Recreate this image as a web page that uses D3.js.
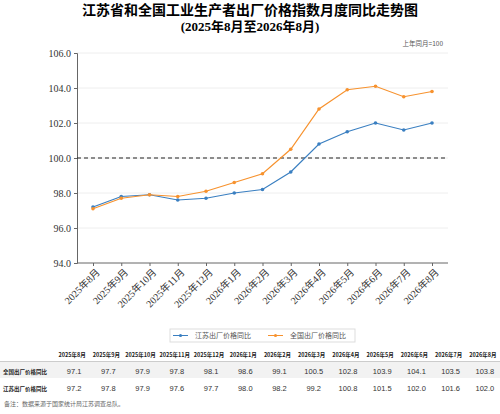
<!DOCTYPE html>
<html><head><meta charset="utf-8">
<script src="https://cdn.jsdelivr.net/npm/d3@7"></script>
<style>body{margin:0;background:#fff}svg{display:block}</style>
</head><body>
<svg id="chart" width="500" height="414"></svg>
<script>
const months = ["2025年8月","2025年9月","2025年10月","2025年11月","2025年12月","2026年1月","2026年2月","2026年3月","2026年4月","2026年5月","2026年6月","2026年7月","2026年8月"];
const jiangsu = [97.2,97.8,97.9,97.6,97.7,98.0,98.2,99.2,100.8,101.5,102.0,101.6,102.0];
const national = [97.1,97.7,97.9,97.8,98.1,98.6,99.1,100.5,102.8,103.9,104.1,103.5,103.8];
const yTicks = [94,96,98,100,102,104,106];

const svg = d3.select("#chart");
const serif = "'Liberation Serif','Noto Sans CJK SC',serif";
const cjk = "'Noto Sans CJK SC',sans-serif";
const blue = "#3a7fc1", orange = "#f7922e";

svg.append("text").attr("x",250).attr("y",15).attr("text-anchor","middle")
  .style("font-family",serif).style("font-size","14px").style("font-weight","bold")
  .text("江苏省和全国工业生产者出厂价格指数月度同比走势图");
svg.append("text").attr("x",250).attr("y",31).attr("text-anchor","middle")
  .style("font-family",serif).style("font-size","13px").style("font-weight","bold")
  .text("(2025年8月至2026年8月)");
svg.append("text").attr("x",443).attr("y",46).attr("text-anchor","end")
  .style("font-family",cjk).style("font-size","6.5px").attr("fill","#555").text("上年同月=100");

const x = d3.scalePoint().domain(months).range([93,432]);
const y = d3.scaleLinear().domain([94,106]).range([263,53]);

svg.append("g").selectAll("line").data(yTicks.slice(1)).join("line")
  .attr("x1",77).attr("x2",448).attr("y1",d=>y(d)).attr("y2",d=>y(d))
  .attr("stroke","#eee");

const ya = svg.append("g").attr("transform","translate(77,0)")
  .call(d3.axisLeft(y).tickValues(yTicks).tickFormat(d3.format(".1f")).tickSize(3));
ya.selectAll("text").style("font-family",serif).style("font-size","10px").attr("fill","#333");
ya.selectAll("path,line").attr("stroke","#666");

const xa = svg.append("g").attr("transform","translate(0,263)")
  .call(d3.axisBottom(x).tickSize(3).tickSizeOuter(0));
xa.select(".domain").attr("d","M77,0H448").attr("stroke","#666");
xa.selectAll("line").attr("stroke","#666");
xa.selectAll("text").style("font-family",serif).style("font-size","10px").attr("fill","#333")
  .attr("text-anchor","end").attr("dx","-0.2em").attr("dy","0.6em").attr("transform","rotate(-45)");

svg.append("line").attr("x1",77).attr("x2",448).attr("y1",y(100)).attr("y2",y(100))
  .attr("stroke","#222").attr("stroke-width",1.2).attr("stroke-dasharray","4,3");

const line = d3.line().x((d,i)=>x(months[i])).y(d=>y(d));
[[jiangsu,blue],[national,orange]].forEach(([data,c])=>{
  svg.append("path").datum(data).attr("d",line).attr("fill","none").attr("stroke",c).attr("stroke-width",1.2);
  svg.append("g").selectAll("circle").data(data).join("circle")
    .attr("cx",(d,i)=>x(months[i])).attr("cy",d=>y(d)).attr("r",1.8).attr("fill",c);
});

// legend
const lg = svg.append("g");
lg.append("rect").attr("x",170).attr("y",329).attr("width",185).attr("height",13)
  .attr("fill","#fff").attr("stroke","#ddd");
[[blue,"江苏出厂价格同比",173],[orange,"全国出厂价格同比",268]].forEach(([c,t,lx])=>{
  lg.append("line").attr("x1",lx).attr("x2",lx+15).attr("y1",335.5).attr("y2",335.5).attr("stroke",c);
  lg.append("circle").attr("cx",lx+7.5).attr("cy",335.5).attr("r",1.6).attr("fill",c);
  lg.append("text").attr("x",lx+22).attr("y",338).style("font-family",cjk).style("font-size","7px")
    .attr("fill","#555").text(t);
});

// table
const colX = d3.scaleBand().domain(months).range([55,500]);
const rows = [["全国出厂价格同比",national],["江苏出厂价格同比",jiangsu]];
svg.append("line").attr("x1",0).attr("x2",500).attr("y1",362).attr("y2",362).attr("stroke","#999");
svg.append("rect").attr("x",0).attr("y",362).attr("width",500).attr("height",16).attr("fill","#f2f2f2");
svg.append("g").selectAll("text").data(months).join("text")
  .attr("x",d=>colX(d)+colX.bandwidth()/2).attr("y",357).attr("text-anchor","middle")
  .style("font-family",cjk).style("font-size","5.5px").style("font-weight","bold").attr("fill","#222").text(d=>d);
rows.forEach(([name,data],r)=>{
  const ry = 374 + r*16.5;
  svg.append("text").attr("x",3).attr("y",ry).style("font-family",cjk).style("font-size","5.5px")
    .style("font-weight","bold").attr("fill","#222").text(name);
  svg.append("g").selectAll("text").data(data).join("text")
    .attr("x",(d,i)=>colX(months[i])+colX.bandwidth()/2+2).attr("y",ry)
    .attr("text-anchor","middle").style("font-family","'Liberation Sans',sans-serif")
    .style("font-size","7.5px").attr("fill","#333").text(d=>d.toFixed(1));
});
svg.append("text").attr("x",4).attr("y",406).style("font-family",cjk).style("font-size","6px")
  .attr("fill","#666").text("备注：数据来源于国家统计局江苏调查总队。");
</script>
</body></html>
